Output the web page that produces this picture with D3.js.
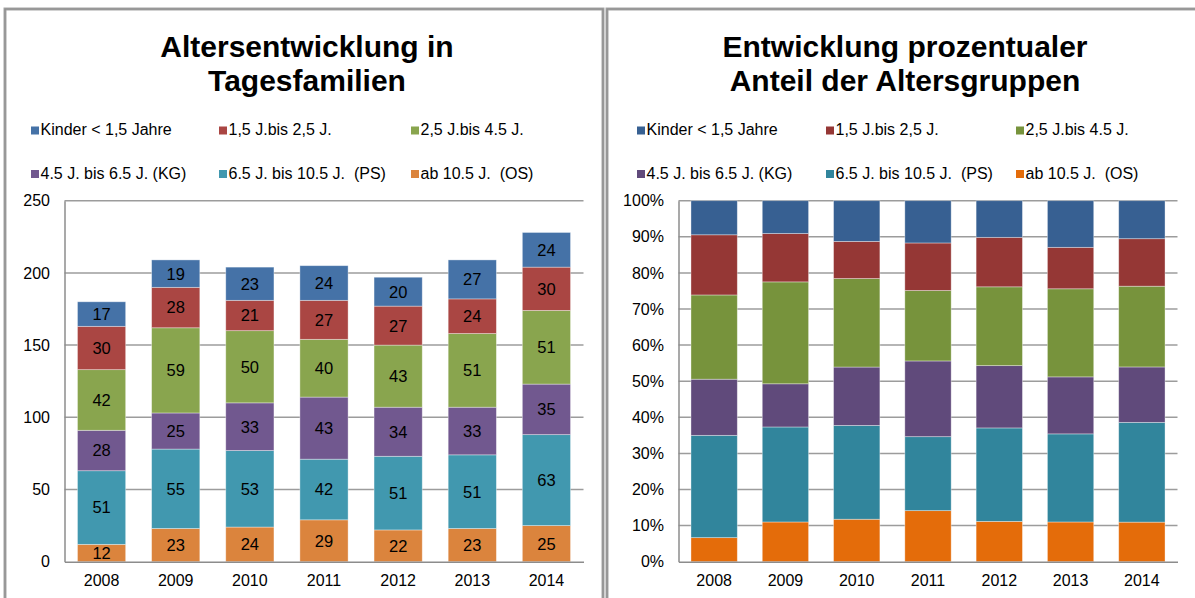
<!DOCTYPE html>
<html><head><meta charset="utf-8">
<script src="https://cdn.jsdelivr.net/npm/d3@7"></script>
<style>
html,body{margin:0;padding:0;background:#fff;}
svg text{font-family:"Liberation Sans",Arial,sans-serif;white-space:pre;}
</style></head>
<body><svg id="c" width="1195" height="598"></svg>
<script>
const years = ["2008","2009","2010","2011","2012","2013","2014"];
const kinder = [17,19,23,24,20,27,24];
const j15bis25 = [30,28,21,27,27,24,30];
const j25bis45 = [42,59,50,40,43,51,51];
const kg = [28,25,33,43,34,33,35];
const ps = [51,55,53,42,51,51,63];
const os = [12,23,24,29,22,23,25];
const seriesKeys = ["kinder","j15bis25","j25bis45","kg","ps","os"];
const seriesNames = ["Kinder < 1,5 Jahre","1,5 J.bis 2,5 J.","2,5 J.bis 4.5 J.","4.5 J. bis 6.5 J. (KG)","6.5 J. bis 10.5 J.  (PS)","ab 10.5 J.  (OS)"];
const leftTicks = [0,50,100,150,200,250];
const rightTicks = [0,0.1,0.2,0.3,0.4,0.5,0.6,0.7,0.8,0.9,1.0];

const seriesVals = {kinder, j15bis25, j25bis45, kg, ps, os};
const colorsLeft = {kinder:"#4572A7", j15bis25:"#AA4643", j25bis45:"#89A54E", kg:"#71588F", ps:"#4198AF", os:"#DB843D"};
const colorsRight = {kinder:"#376092", j15bis25:"#953735", j25bis45:"#77933C", kg:"#604A7B", ps:"#31859C", os:"#E46C0A"};

const table = years.map((y,i)=>{const r={year:y}; seriesKeys.forEach(k=>r[k]=seriesVals[k][i]); return r;});
const stackOrder = ["os","ps","kg","j25bis45","j15bis25","kinder"];

const svg = d3.select("#c");

function panel(cfg){
  const g = svg.append("g");
  g.append("rect").attr("x",cfg.px).attr("y",9).attr("width",cfg.pw).attr("height",620)
    .attr("fill","#fff").attr("stroke","#a6a6a6").attr("stroke-width",3);
  g.append("rect").attr("x",cfg.px).attr("y",9).attr("width",cfg.pw).attr("height",620)
    .attr("fill","none").attr("stroke","#8a8a8a").attr("stroke-width",1);
  // title
  cfg.title.forEach((t,i)=>{
    g.append("text").attr("x",cfg.tx).attr("y",56.5+i*34).attr("text-anchor","middle")
      .attr("font-size",30).attr("font-weight","bold").attr("fill","#000").text(t);
  });
  // legend
  seriesKeys.forEach((k,i)=>{
    const col=i%3, row=Math.floor(i/3);
    const lx=cfg.legX[col], ly = row===0?135:178.5;
    g.append("rect").attr("x",lx).attr("y",ly-8.5).attr("width",8).attr("height",8).attr("fill",cfg.colors[k]);
    g.append("text").attr("x",lx+9.5).attr("y",ly).attr("font-size",16).attr("fill","#000").text(seriesNames[i]);
  });
  const x = d3.scaleBand().domain(years).range([cfg.x0,cfg.x1]).paddingInner(0.35).paddingOuter(0.175);
  const y = d3.scaleLinear().domain(cfg.domain).range([561.7,200.7]);
  // gridlines
  g.append("g").selectAll("line").data(cfg.ticks.filter(t=>t!==0)).join("line")
    .attr("x1",cfg.x0).attr("x2",cfg.x1).attr("y1",d=>y(d)).attr("y2",d=>y(d))
    .attr("stroke","#9c9c9c").attr("stroke-width",1.5);
  const stack = d3.stack().keys(stackOrder);
  if(cfg.expand) stack.offset(d3.stackOffsetExpand);
  const layers = stack(table);
  layers.forEach(layer=>{
    const k = layer.key;
    const lg = g.append("g");
    lg.selectAll("rect").data(layer).join("rect")
      .attr("x",d=>x(d.data.year)).attr("width",x.bandwidth())
      .attr("y",d=>y(d[1])).attr("height",d=>y(d[0])-y(d[1]))
      .attr("fill",cfg.colors[k]).attr("stroke","rgba(255,255,255,0.45)").attr("stroke-width",0.8);
    if(cfg.labels){
      lg.selectAll("text").data(layer).join("text")
        .attr("x",d=>x(d.data.year)+x.bandwidth()/2)
        .attr("y",d=>(y(d[0])+y(d[1]))/2)
        .attr("dy","0.36em").attr("text-anchor","middle").attr("font-size",16.5).attr("fill","#000")
        .text(d=>d.data[k]);
    }
  });
  // axes
  const yAxis = d3.axisLeft(y).tickValues(cfg.ticks).tickSize(0).tickPadding(14.5).tickFormat(cfg.fmt);
  const ya = g.append("g").attr("transform",`translate(${cfg.x0},0)`).call(yAxis);
  ya.select(".domain").attr("stroke","#8c8c8c").attr("stroke-width",1.5);
  ya.selectAll("text").attr("font-size",16).attr("fill","#000").attr("font-family","Liberation Sans, Arial, sans-serif");
  const xAxis = d3.axisBottom(x).tickSize(0).tickPadding(13);
  const xa = g.append("g").attr("transform","translate(0,561.7)").call(xAxis);
  xa.select(".domain").attr("stroke","#8c8c8c").attr("stroke-width",1.5);
  xa.selectAll("text").attr("font-size",16).attr("fill","#000").attr("font-family","Liberation Sans, Arial, sans-serif");
}

panel({px:5,pw:598,tx:307,title:["Altersentwicklung in","Tagesfamilien"],legX:[31,219,411],
  colors:colorsLeft,x0:64.5,x1:583.5,domain:[0,250],ticks:leftTicks,fmt:d3.format("d"),labels:true,expand:false});
panel({px:607,pw:600,tx:905,title:["Entwicklung prozentualer","Anteil der Altersgruppen"],legX:[637,826,1016],
  colors:colorsRight,x0:678.5,x1:1177.5,domain:[0,1],ticks:rightTicks,fmt:d3.format(".0%"),labels:false,expand:true});
</script></body></html>
